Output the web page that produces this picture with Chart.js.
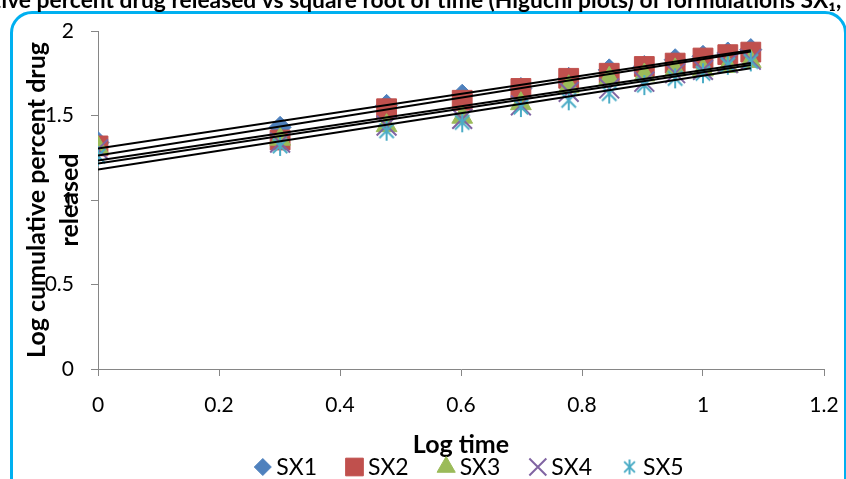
<!DOCTYPE html>
<html>
<head>
<meta charset="utf-8">
<script src="https://cdn.jsdelivr.net/npm/chart.js@4.4.1/dist/chart.umd.min.js"></script>
<style>
  html, body { margin: 0; padding: 0; background: #fff; overflow: hidden; }
  #wrap { position: relative; width: 846px; height: 479px; overflow: hidden; }
  #frame { position: absolute; left: 10px; top: 11px; width: 831px; height: 490px;
           border: 3px solid #00B0F0; border-radius: 22px; }
  #chart { position: absolute; left: 0; top: 0; }
</style>
</head>
<body>
<div id="wrap">
  <div id="frame"></div>
  <canvas id="chart" width="846" height="479"></canvas>
</div>
<script>
const logTime = [0, 0.301, 0.477, 0.602, 0.699, 0.778, 0.845, 0.903, 0.954, 1, 1.041, 1.079];
const sx1 = [1.34, 1.43, 1.56, 1.62, 1.66, 1.72, 1.77, 1.79, 1.83, 1.85, 1.87, 1.89];
const sx2 = [1.32, 1.355, 1.54, 1.59, 1.66, 1.72, 1.75, 1.79, 1.81, 1.84, 1.86, 1.875];
const sx3 = [1.31, 1.36, 1.44, 1.49, 1.57, 1.67, 1.72, 1.74, 1.77, 1.77, 1.79, 1.82];
const sx4 = [1.30, 1.34, 1.44, 1.48, 1.56, 1.64, 1.66, 1.70, 1.75, 1.77, 1.81, 1.83];
const sx5 = [1.26, 1.32, 1.41, 1.46, 1.55, 1.59, 1.63, 1.68, 1.72, 1.75, 1.80, 1.82];
const seriesNames = ["SX1", "SX2", "SX3", "SX4", "SX5"];

const chartTitle = "Log cumulative percent drug released vs square root of time (Higuchi plots) of formulations SX\u2081, SX\u2082, SX\u2083, SX\u2084 and SX\u2085";
const xTitle = "Log time";
const yTitle = ["Log cumulative percent drug", "released"];

const colors = ["#4F81BD", "#C0504D", "#9BBB59", "#8064A2", "#4BACC6"];
const FONT = "Lato, 'Liberation Sans', sans-serif";

// Excel style asterisk: vertical bar plus an X
function starMarker(size, color) {
  const c = document.createElement("canvas");
  c.width = c.height = size;
  const g = c.getContext("2d");
  const m = size / 2, r = size / 2 - 1, d = r * 0.72;
  g.strokeStyle = color;
  g.lineWidth = 2;
  g.beginPath();
  g.moveTo(m, m - r); g.lineTo(m, m + r);
  g.moveTo(m - d, m - d); g.lineTo(m + d, m + d);
  g.moveTo(m + d, m - d); g.lineTo(m - d, m + d);
  g.stroke();
  return c;
}

// least squares line over the data range, like an Excel linear trendline
function trend(ys) {
  const n = logTime.length;
  const mx = logTime.reduce((a, b) => a + b, 0) / n;
  const my = ys.reduce((a, b) => a + b, 0) / n;
  let sxy = 0, sxx = 0;
  logTime.forEach((x, i) => {
    sxy += (x - mx) * (ys[i] - my);
    sxx += (x - mx) * (x - mx);
  });
  const b = sxy / sxx, a = my - b * mx;
  const x0 = logTime[0], x1 = logTime[n - 1];
  return [{ x: x0, y: a + b * x0 }, { x: x1, y: a + b * x1 }];
}

const series = [sx1, sx2, sx3, sx4, sx5];
const styles = [
  { pointStyle: "rectRot", pointRadius: 11 },
  { pointStyle: "rect", pointRadius: 14 },
  { pointStyle: "triangle", pointRadius: 12 },
  { pointStyle: "crossRot", pointRadius: 14, pointBorderWidth: 2 },
  { pointStyle: starMarker(22, colors[4]), pointRadius: 11 },
];
const legendStyles = [
  { pointStyle: "rectRot", radius: 8.5 },
  { pointStyle: "rect", radius: 12.5 },
  { pointStyle: "triangle", radius: 10.5 },
  { pointStyle: "crossRot", radius: 12, borderWidth: 2 },
  { pointStyle: starMarker(17, colors[4]), radius: 8 },
];

const datasets = [];
series.forEach((ys, i) => {
  datasets.push({
    label: seriesNames[i],
    data: ys.map((y, j) => ({ x: logTime[j], y })),
    backgroundColor: colors[i],
    borderColor: colors[i],
    pointBorderWidth: 1,
    showLine: false,
    order: 5 - i + 1,
    ...styles[i],
  });
});
series.forEach((ys, i) => {
  datasets.push({
    label: "trend " + seriesNames[i],
    data: trend(ys),
    showLine: true,
    borderColor: "#000",
    borderWidth: 2,
    pointRadius: 0,
    order: 0,
  });
});

const textPlugin = {
  id: "texts",
  afterDraw(chart) {
    const ctx = chart.ctx;
    const area = chart.chartArea;
    ctx.save();
    ctx.fillStyle = "#000";

    // chart title, cut off at both sides as in the source
    ctx.font = "bold 20px " + FONT;
    const seen = ctx.measureText("ive percent drug released vs square root of time (Higuchi plots) of formulations SX").width;
    const size = 20 * 826 / seen;
    ctx.font = "bold " + size.toFixed(1) + "px " + FONT;
    ctx.textAlign = "left";
    ctx.textBaseline = "alphabetic";
    const skip = ctx.measureText("Log cumulat").width;
    ctx.fillText(chartTitle, 1 - skip, 8);

    // x axis title
    ctx.font = "bold 25px " + FONT;
    ctx.textAlign = "center";
    ctx.textBaseline = "middle";
    ctx.fillText(xTitle, (area.left + area.right) / 2, 445);

    // legend
    ctx.font = "23px " + FONT;
    ctx.textAlign = "left";
    const slot = 22, gap = 29;
    const widths = seriesNames.map((s) => slot + ctx.measureText(s).width);
    const total = widths.reduce((a, b) => a + b, 0) + gap * (widths.length - 1);
    let x = 469 - total / 2;
    const ly = 467;
    seriesNames.forEach((name, i) => {
      ctx.fillStyle = colors[i];
      ctx.strokeStyle = colors[i];
      ctx.lineWidth = legendStyles[i].borderWidth || 1;
      Chart.helpers.drawPoint(ctx, {
        pointStyle: legendStyles[i].pointStyle,
        radius: legendStyles[i].radius,
        rotation: 0,
        borderWidth: legendStyles[i].borderWidth || 1,
      }, x + 8.5, ly);
      ctx.fillStyle = "#000";
      ctx.fillText(name, x + slot, ly + 1);
      x += widths[i] + gap;
    });

    // y axis title, drawn over the tick labels like the source
    ctx.font = "bold 25px " + FONT;
    ctx.textAlign = "center";
    ctx.textBaseline = "middle";
    ctx.translate(37, (area.top + area.bottom) / 2);
    ctx.rotate(-Math.PI / 2);
    ctx.fillText(yTitle[0], 0, 0);
    ctx.fillText(yTitle[1], 0, 33);
    ctx.restore();
  },
};

const plain = (v) => String(Math.round(v * 10) / 10);

new Chart(document.getElementById("chart"), {
  type: "scatter",
  data: { datasets },
  plugins: [textPlugin],
  options: {
    responsive: false,
    animation: false,
    devicePixelRatio: 1,
    events: [],
    layout: { padding: { left: 0, right: 22, top: 31, bottom: 0 } },
    plugins: {
      legend: { display: false },
      title: { display: false },
      tooltip: { enabled: false },
    },
    scales: {
      x: {
        type: "linear",
        min: 0,
        max: 1.2,
        afterFit: (s) => {
          s.height = 110;
          s.paddingLeft = 0;
          s.paddingRight = 0;
        },
        ticks: { stepSize: 0.2, color: "#000", padding: 17, callback: plain, font: { family: FONT, size: 21 } },
        grid: { drawOnChartArea: false, drawTicks: true, tickLength: 7, color: "#868686" },
        border: { color: "#868686", width: 1 },
      },
      y: {
        min: 0,
        max: 2,
        afterFit: (s) => { s.width = 98; },
        ticks: { stepSize: 0.5, color: "#000", padding: 17, callback: plain, font: { family: FONT, size: 21 } },
        grid: { drawOnChartArea: false, drawTicks: true, tickLength: 7, color: "#868686" },
        border: { color: "#868686", width: 1 },
      },
    },
  },
});
</script>
</body>
</html>
